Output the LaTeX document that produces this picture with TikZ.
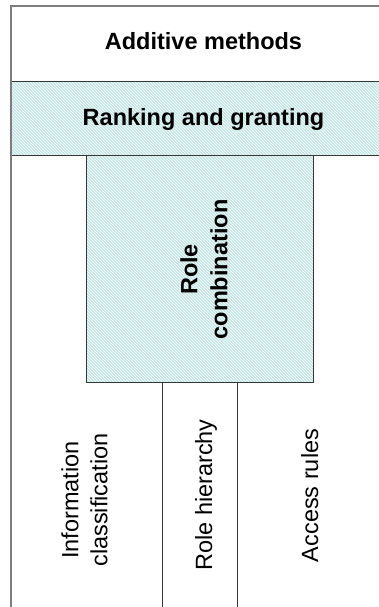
\documentclass[tikz,border=0pt]{standalone}
\usepackage{fontspec}
\setmainfont{Liberation Sans}
\usetikzlibrary{patterns}
\definecolor{hatchbg}{RGB}{196,230,230}
\definecolor{framegray}{RGB}{125,125,125}
\definecolor{rulegray}{RGB}{55,55,55}

\begin{document}
\begin{tikzpicture}[x=1pt,y=-1pt,
  hatched/.style={fill=hatchbg, postaction={pattern=north west lines, pattern color=white}},
  innerline/.style={draw=rulegray, line width=0.9pt},
  outerline/.style={draw=framegray, line width=1.8pt},
  txt/.style={font=\fontsize{23.5}{29}\selectfont, align=center, inner sep=0pt},
  boldtxt/.style={txt, font=\fontsize{23.5}{30}\selectfont\bfseries}]

\useasboundingbox (0,0) rectangle (379,607);
\clip (0,0) rectangle (379,607);
\fill[white] (0,0) rectangle (379,607);

% frame corners and layer boundaries
\coordinate (tl) at (11,6);
\coordinate (tr) at (390,6);
\coordinate (bl) at (11,615);
\coordinate (bandL) at (11,81);
\coordinate (bandR) at (390,81);
\coordinate (bandBL) at (11,155);
\coordinate (bandBR) at (390,155);
\coordinate (combTL) at (86,155);
\coordinate (combTR) at (313,155);
\coordinate (combBL) at (86,382);
\coordinate (combBR) at (313,382);
\coordinate (hierL) at (162,382);
\coordinate (hierR) at (237,382);
\coordinate (hierLb) at (162,615);
\coordinate (hierRb) at (237,615);

% hatched layers
\path[hatched] (bandL) rectangle (bandBR);
\path[hatched] (combTL) rectangle (combBR);

% separating lines
\draw[innerline] (bandL) -- (bandR);
\draw[innerline] (bandBL) -- (bandBR);
\draw[innerline] (combTL) -- (combBL) -- (combBR) -- (combTR);
\draw[innerline] (hierL) -- (hierLb);
\draw[innerline] (hierR) -- (hierRb);

% outer frame
\draw[outerline] (bl) -- (tl) -- (tr);

% labels
\node[boldtxt, anchor=base] (title) at (203.5,49.3) {Additive methods};
\node[boldtxt, anchor=base] (rank) at (203.5,125) {Ranking and granting};
\node[boldtxt, rotate=90] (comb) at (204,269.5) {Role\\combination};
\node[txt, rotate=90] (info) at (84.5,500) {Information\\classification};
\node[txt, rotate=90, anchor=base] (hier) at (212,495) {Role hierarchy};
\node[txt, rotate=90, anchor=base] (access) at (318,495.5) {Access rules};
\end{tikzpicture}
\end{document}
